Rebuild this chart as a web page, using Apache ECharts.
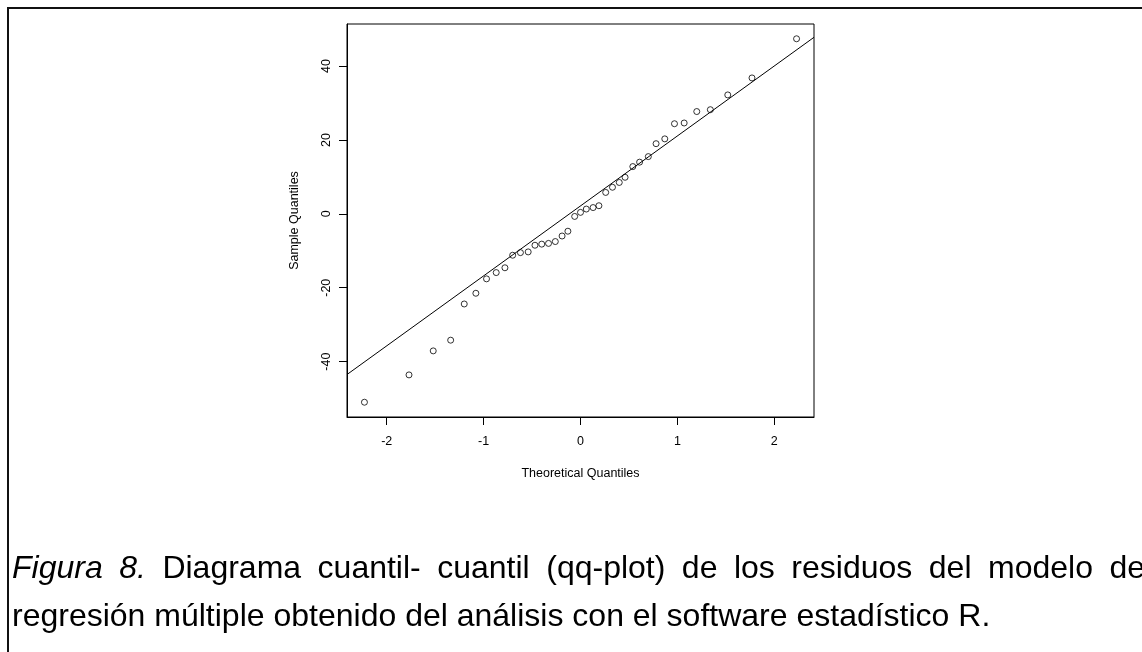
<!doctype html>
<html lang="es">
<head>
    <meta charset="UTF-8">
    <title>Diagrama cuantil-cuantil</title>
    <script type="text/javascript" src="https://cdn.jsdelivr.net/npm/echarts@6/dist/echarts.min.js"></script>
    <style>
        html, body { margin: 0; padding: 0; background: #fff; overflow: hidden; }
        #frame {
            position: absolute; left: 7px; top: 7px; width: 1200px; height: 700px;
            border-left: 2.5px solid #111; border-top: 2.5px solid #111;
        }
        #container { position: absolute; left: 0; top: 0; width: 1142px; height: 652px; }
        #caption {
            position: absolute; left: 12px; top: 543px; width: 1133px;
            font-family: "Liberation Sans", Arial, sans-serif; font-size: 32px; line-height: 48px;
            color: #000; text-align: justify;
        }
    </style>
</head>
<body>
<div id="frame"></div>
<div id="container"></div>
<div id="caption"><i>Figura 8.</i> Diagrama cuantil- cuantil (qq-plot) de los residuos del modelo de regresión múltiple obtenido del análisis con el software estadístico R.</div>
<script type="text/javascript">

    // theoretical quantiles (x) and sample quantiles (y)
    var theoretical = [-2.23, -1.77, -1.52, -1.34, -1.20, -1.08, -0.97, -0.87, -0.78, -0.70,
        -0.62, -0.54, -0.47, -0.40, -0.33, -0.26, -0.19, -0.13, -0.06, 0.00,
        0.06, 0.13, 0.19, 0.26, 0.33, 0.40, 0.46, 0.54, 0.61, 0.70,
        0.78, 0.87, 0.97, 1.07, 1.20, 1.34, 1.52, 1.77, 2.23];
    var sample = [-51.0, -43.6, -37.1, -34.2, -24.4, -21.5, -17.6, -15.9, -14.6, -11.2,
        -10.5, -10.3, -8.5, -8.2, -8.0, -7.5, -6.0, -4.7, -0.7, 0.4,
        1.3, 1.7, 2.2, 5.8, 7.2, 8.5, 9.9, 12.8, 14.0, 15.5,
        19.0, 20.3, 24.4, 24.6, 27.7, 28.2, 32.2, 36.8, 47.4];

    // qqline end points at the plot edges
    var lineX = [-2.41, 2.41];
    var lineY = [-43.5, 47.8];

    var xTicks = [-2, -1, 0, 1, 2];
    var yTicks = [-40, -20, 0, 20, 40];

    var points = [];
    for (var i = 0; i < theoretical.length; i++) {
        points.push([theoretical[i], sample[i]]);
    }
    var qqline = [[lineX[0], lineY[0]], [lineX[1], lineY[1]]];

    var font = '"Liberation Sans", Arial, sans-serif';
    var myChart = echarts.init(document.getElementById("container"));
    var option = {
        animation: false,
        grid: {
            left: 347, right: 328, top: 24, bottom: 235,
            show: true, borderColor: '#000', borderWidth: 1,
            backgroundColor: 'transparent'
        },
        xAxis: {
            type: 'value', min: -2.41, max: 2.41,
            name: 'Theoretical Quantiles', nameLocation: 'middle', nameGap: 50,
            nameTextStyle: {fontFamily: font, fontSize: 12.5, color: '#000'},
            axisLine: {show: true, onZero: false, lineStyle: {color: '#000', width: 1}},
            axisTick: {show: true, inside: false, length: 8, customValues: xTicks, lineStyle: {color: '#000'}},
            axisLabel: {customValues: xTicks, margin: 18.5, fontFamily: font, fontSize: 12.5, color: '#000'},
            splitLine: {show: false}
        },
        yAxis: {
            type: 'value', min: -55.0, max: 51.4,
            name: 'Sample Quantiles', nameLocation: 'middle', nameGap: 46,
            nameTextStyle: {fontFamily: font, fontSize: 12.5, color: '#000'},
            axisLine: {show: true, onZero: false, lineStyle: {color: '#000', width: 1}},
            axisTick: {show: true, inside: false, length: 8, customValues: yTicks, lineStyle: {color: '#000'}},
            axisLabel: {customValues: yTicks, rotate: 90, margin: 13.5, fontFamily: font, fontSize: 12.5, color: '#000'},
            splitLine: {show: false}
        },
        series: [{
            type: 'line',
            data: qqline,
            showSymbol: false,
            lineStyle: {color: '#000', width: 1},
            silent: true
        }, {
            type: 'scatter',
            data: points,
            symbol: 'circle',
            symbolSize: 6,
            itemStyle: {color: 'rgba(0,0,0,0)', borderColor: '#000', borderWidth: 1}
        }]
    };
    myChart.setOption(option);

</script>
</body>
</html>
